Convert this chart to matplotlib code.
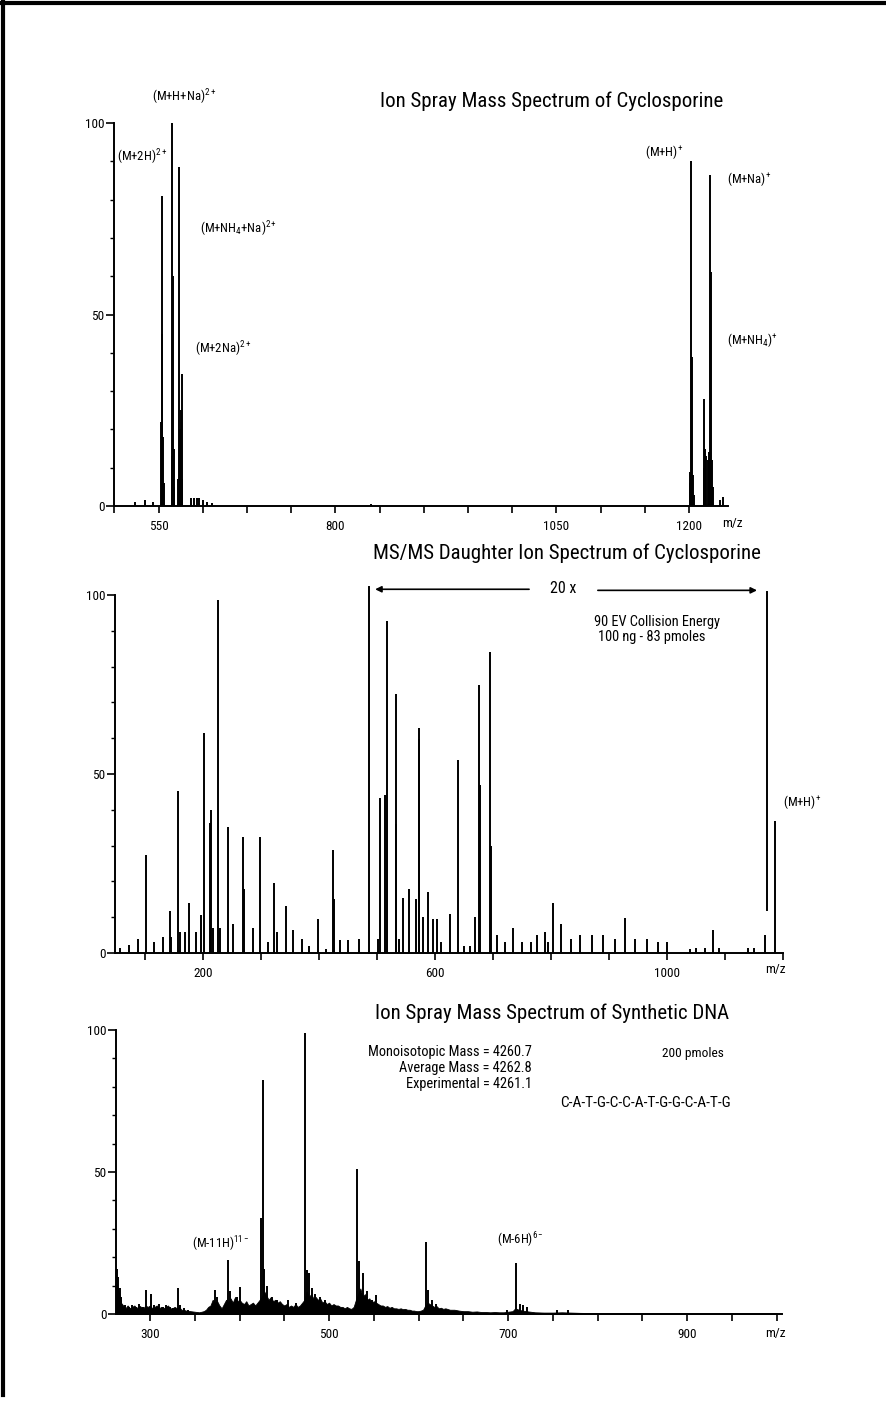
import matplotlib
matplotlib.use("Agg")
import matplotlib.pyplot as plt
from matplotlib.lines import Line2D
import numpy as np

# ---------------- DATA ----------------
# Panel 1: Ion Spray Mass Spectrum of Cyclosporine (m/z, relative intensity)
p1_mz = [573, 584.6, 594, 603.0, 603.6, 604.2, 605.0, 605.8,
         614.8, 615.6, 616.3, 617.0, 617.8, 622.2, 623.1, 624.5,
         625.4, 626.1, 626.8, 637, 640, 643, 646, 650, 655, 660, 840,
         1200.5, 1201.5, 1202.3, 1203.2, 1204.0, 1205.0,
         1216.5, 1217.3, 1218.2, 1219.5, 1221.0, 1222.5, 1223.8, 1224.6,
         1225.5, 1226.5, 1235.0, 1238.8]
p1_h = [1, 1.5, 1, 22, 81, 45, 18, 6,
        13, 100, 60, 15, 5, 7, 88.5, 20,
        25, 34.5, 7, 2.2, 2.2, 2, 2, 1.5, 1, 0.8, 0.6,
        6, 9, 90, 39, 8, 3,
        10, 28, 15, 13, 12, 14, 86.4, 61,
        12, 5, 1.5, 2.3]
p1_tick_pos = [600, 800, 1050, 1200]
p1_tick_lab = ['550', '800', '1050', '1200']

# Panel 2: MS/MS daughter ion spectrum of cyclosporine
p2_mz = [57, 72, 88, 102, 115, 131, 143, 145, 157, 160, 169, 176, 188, 197,
         202, 212, 214, 217, 226, 229, 243, 252, 269, 271, 286, 298, 312,
         322, 327, 343, 355, 370, 383, 398, 412, 425, 426, 436, 450, 469,
         502, 505, 514, 517, 532, 533, 538, 545, 555, 567, 572, 573, 580,
         588, 596, 603, 610, 626, 640, 650, 660, 669, 676, 677, 695, 696,
         707, 720, 735, 750, 765, 776, 790, 795, 803, 818, 835, 850, 870,
         890, 910, 927, 945, 965, 985, 1000, 1040, 1050, 1065, 1079, 1090,
         1140, 1150, 1169, 1186]
p2_h = [1.5, 2.3, 4, 27.4, 3, 4.5, 11.7, 4.6, 45.3, 6, 6, 14, 6, 10.6,
        61.4, 36.3, 40, 7, 98.6, 7, 35.2, 8, 32.4, 18, 7, 32.4, 3,
        19.6, 6, 13, 6.5, 4, 2, 9.5, 1, 28.8, 15, 3.5, 3.5, 4,
        4, 43.3, 44, 92.7, 72.3, 36, 4, 15.4, 17.8, 15, 62.8, 59.7, 10,
        17, 9.5, 9.5, 3, 11, 54, 2, 2, 10, 75, 47, 84, 30,
        5, 3, 7, 3, 3, 5, 6, 3, 14, 8, 4, 5, 5,
        5, 4, 9.8, 4, 4, 3, 3, 1, 1.5, 1.5, 6.5, 1.5,
        1.5, 1.5, 4.9, 37]
p2_tick_pos = [200, 600, 1000]
p2_tick_lab = ['200', '600', '1000']
p2_zoom_range = (486, 1172)   # region magnified "20 x"

# Panel 3: Ion spray mass spectrum of synthetic DNA
p3_mz = [263, 264.5, 266, 268, 272, 276, 280, 284, 288, 292, 295.5, 301,
         305, 310, 314, 318, 322, 326, 331, 334, 338, 342,
         372.6, 374.5, 387.5, 389, 396.8, 400.6, 424, 425.9, 427.7, 431.1,
         435.9, 441.5, 454.5, 463, 473.6, 475.9, 478.1, 480.7, 484.4, 490,
         495.6, 531.7, 534, 537.7, 542, 547.6, 553, 608, 611, 614.7, 620,
         698.5, 709, 713.4, 717, 720.8, 754.4, 767]
p3_h = [16, 13, 9, 6, 3, 2.5, 3, 2.5, 3.5, 2.5, 8.5, 7.2,
        3, 3.5, 2.5, 3, 2.5, 2, 9.2, 3, 2, 1.5,
        8.5, 6, 19, 8, 6, 9.6, 33.7, 82.4, 16, 10,
        6, 5, 5, 4, 99, 15.5, 14.6, 9, 7, 6,
        5, 51, 18.7, 14.6, 8, 5, 6.7, 25.5, 8.5, 5, 3.5,
        1.5, 18, 3.5, 3, 2.5, 1.5, 1.5]
# baseline "grass" envelope
p3_base_mz = [263, 265, 267.5, 270, 272.5, 275, 277.5, 280, 282.5, 285, 287.5,
              290, 292.5, 295, 297.5, 300, 302.5, 305, 307.5, 310, 312.5, 315,
              317.5, 320, 322.5, 325, 327.5, 330, 332.5, 335, 337.5, 340, 345,
              350, 355, 360, 362.5, 365, 367.5, 370, 372.5, 375, 377.5, 380,
              382.5, 385, 387.5, 390, 392.5, 395, 397.5, 400, 402.5, 405, 407.5,
              410, 412.5, 415, 417.5, 420, 422.5, 425, 427.5, 430, 432.5, 435,
              437.5, 440, 442.5, 445, 447.5, 450, 452.5, 455, 457.5, 460, 462.5,
              465, 467.5, 470, 472.5, 475, 477.5, 480, 482.5, 485, 487.5, 490,
              492.5, 495, 497.5, 500, 502.5, 505, 507.5, 510, 512.5, 515, 517.5,
              520, 522.5, 525, 527.5, 530, 532.5, 535, 537.5, 540, 542.5, 545,
              547.5, 550, 552.5, 555, 557.5, 560, 562.5, 565, 567.5, 570, 572.5,
              575, 577.5, 580, 582.5, 585, 587.5, 590, 592.5, 595, 597.5, 600,
              602.5, 605, 607.5, 610, 612.5, 615, 617.5, 620, 622.5, 625, 627.5,
              630, 635, 640, 645, 650, 655, 660, 665, 670, 675, 680, 685, 690,
              695, 700, 705, 708, 712, 716, 720, 730, 740, 750, 760, 770, 780,
              800, 850, 900, 950, 1000]
p3_base_h = [10, 8, 4, 3, 2, 3, 2, 2.5, 3, 2, 3,
             2.5, 2, 3, 2.5, 3, 2, 2.5, 3, 2, 2.5, 2,
             2.5, 3, 2, 2, 2.5, 2, 2.5, 1.5, 1.5, 1.2, 1,
             0.8, 0.6, 1, 1.5, 2.5, 3, 5, 4, 4.5, 3, 2,
             3.5, 5, 4, 5.5, 4, 6, 4.5, 5, 4, 3.5, 4.5,
             3, 3.5, 4, 3, 4, 5, 6, 8, 6.5, 5, 6,
             4.5, 5, 4, 4.5, 3.5, 3, 3.5, 2.5, 3, 2.5, 3.5,
             2.5, 3, 4, 5, 8, 6, 7, 5.5, 6, 5, 5.5,
             4, 4.5, 3.5, 4, 3, 3.5, 3, 3, 2.5, 2.5, 2,
             2.5, 2, 1.8, 2.5, 5, 7, 9, 6, 7, 5, 5.5,
             4, 4.5, 4, 3.5, 3, 3, 2.5, 2.8, 2.2, 2.5, 2,
             2, 1.8, 2, 1.7, 1.8, 1.5, 1.5, 1.2, 1.2, 1, 1,
             1.2, 1.5, 3, 4, 3.5, 3, 2.5, 2.8, 2, 2.2, 1.8,
             2, 1.5, 1.5, 1.2, 1, 1, 0.8, 0.9, 0.7, 0.7, 0.6, 0.7, 0.6,
             0.6, 0.8, 1, 2, 1.5, 1.2, 1, 0.6, 0.5, 0.5, 0.6, 0.5, 0.4,
             0.3, 0.3, 0.3, 0.3, 0.3]
p3_tick_pos = [300, 500, 700, 900]
p3_tick_lab = ['300', '500', '700', '900']

# ---------------- STYLE ----------------
FONT = ['Roboto Condensed', 'Roboto', 'DejaVu Sans']
plt.rcParams['font.family'] = FONT
plt.rcParams['mathtext.fontset'] = 'custom'
plt.rcParams['mathtext.rm'] = 'Roboto Condensed'
plt.rcParams['mathtext.it'] = 'Roboto Condensed'
plt.rcParams['mathtext.bf'] = 'Roboto Condensed'

W, H = 886, 1401
fig = plt.figure(figsize=(W / 100, H / 100), dpi=100)
fig.patch.set_facecolor('white')


def px_axes(left, right, top, bottom):
    return fig.add_axes([left / W, 1 - bottom / H, (right - left) / W, (bottom - top) / H])


def ftext(x, y, s, size=8, ha='left', va='center'):
    fig.text(x / W, 1 - y / H, s, fontsize=size, ha=ha, va=va, color='black')


def style_axes(ax, xlim, major_step, tick_pos, tick_lab, xstart):
    ax.set_xlim(*xlim)
    ax.set_ylim(0, 100)
    for s in ['top', 'right']:
        ax.spines[s].set_visible(False)
    for s in ['left', 'bottom']:
        ax.spines[s].set_linewidth(1.4)
    ax.set_yticks([0, 50, 100])
    ax.set_yticklabels(['0', '50', '100'])
    ax.set_yticks(np.arange(10, 100, 10), minor=True)
    ax.tick_params(axis='y', which='major', length=6, width=1.2, labelsize=9.5, pad=1)
    ax.tick_params(axis='y', which='minor', length=3, width=1.0)
    ticks = np.arange(xstart, xlim[1] + 1e-6, major_step)
    ax.set_xticks(ticks, minor=True)
    ax.set_xticks(tick_pos)
    ax.set_xticklabels(tick_lab)
    ax.tick_params(axis='x', which='both', length=5, width=1.2, labelsize=9.5, pad=5)
    ax.patch.set_alpha(0)


LW = 1.4
SUP = 9.2
TITLE = 15
NOTE = 10.4

# ---- Panel 1 ----
ax1 = px_axes(114, 728, 123, 506)
ax1.vlines(p1_mz, 0, p1_h, color='black', lw=LW)
style_axes(ax1, (549.5, 1244), 50, p1_tick_pos, p1_tick_lab, 550)
ftext(380, 101, 'Ion Spray Mass Spectrum of Cyclosporine', size=TITLE)
ftext(152, 97, r'(M+H+Na)$^{\mathrm{2+}}$', size=SUP)
ftext(117, 157, r'(M+2H)$^{\mathrm{2+}}$', size=SUP)
ftext(200, 229, r'(M+NH$_4$+Na)$^{\mathrm{2+}}$', size=SUP)
ftext(195, 349, r'(M+2Na)$^{\mathrm{2+}}$', size=SUP)
ftext(645, 152, r'(M+H)$^{+}$', size=SUP)
ftext(727, 179, r'(M+Na)$^{+}$', size=SUP)
ftext(727, 340, r'(M+NH$_4$)$^{+}$', size=SUP)
ftext(732, 524, 'm/z', size=9.5, ha='center')

# ---- Panel 2 ----
ax2 = px_axes(115, 783, 595, 953)
ax2.vlines(p2_mz, 0, p2_h, color='black', lw=LW)
style_axes(ax2, (48.3, 1200), 100, p2_tick_pos, p2_tick_lab, 100)
zl, zr = p2_zoom_range
ax2.plot([zl, zl], [0, 102.2], color='black', lw=LW, clip_on=False)
ax2.plot([zr, zr], [100.8, 12], color='black', lw=LW, clip_on=False)
ax2.annotate('', xy=(zl + 6, 101.6), xytext=(767, 101.6), xycoords='data',
             arrowprops=dict(arrowstyle='-|>', color='black', lw=1.2, mutation_scale=9),
             annotation_clip=False)
ax2.annotate('', xy=(zr - 12, 101.3), xytext=(876, 101.3), xycoords='data',
             arrowprops=dict(arrowstyle='-|>', color='black', lw=1.2, mutation_scale=9),
             annotation_clip=False)
ftext(373, 553, 'MS/MS Daughter Ion Spectrum of Cyclosporine', size=TITLE)
ftext(563, 588, '20 x', size=11.5, ha='center')
ftext(657, 622, '90 EV Collision Energy', size=NOTE, ha='center')
ftext(652, 637, '100 ng - 83 pmoles', size=NOTE, ha='center')
ftext(783, 802, r'(M+H)$^{+}$', size=SUP)
ftext(775, 969, 'm/z', size=9.5, ha='center')

# ---- Panel 3 ----
ax3 = px_axes(116, 782, 1030, 1314)
ax3.fill_between(p3_base_mz, 0, p3_base_h, color='black', lw=0.6)
ax3.vlines(p3_mz, 0, p3_h, color='black', lw=LW)
style_axes(ax3, (262, 1006), 50, p3_tick_pos, p3_tick_lab, 300)
ftext(375, 1013, 'Ion Spray Mass Spectrum of Synthetic DNA', size=TITLE)
ftext(532, 1052, 'Monoisotopic Mass = 4260.7', size=NOTE, ha='right')
ftext(532, 1068, 'Average Mass = 4262.8', size=NOTE, ha='right')
ftext(532, 1084, 'Experimental = 4261.1', size=NOTE, ha='right')
ftext(662, 1053, '200 pmoles', size=9.6)
ftext(560, 1103, 'C-A-T-G-C-C-A-T-G-G-C-A-T-G', size=11)
ftext(192, 1244, r'(M-11H)$^{\mathrm{11-}}$', size=SUP)
ftext(497, 1240, r'(M-6H)$^{\mathrm{6-}}$', size=SUP)
ftext(775, 1334, 'm/z', size=9.5, ha='center')

# page border (scan edges)
fig.add_artist(Line2D([0, 1], [1 - 2.5 / H, 1 - 2.5 / H], color='black', lw=3, transform=fig.transFigure))
fig.add_artist(Line2D([3 / W, 3 / W], [0.004, 1], color='black', lw=3, transform=fig.transFigure))

fig.savefig('out.png', dpi=100, facecolor='white')
